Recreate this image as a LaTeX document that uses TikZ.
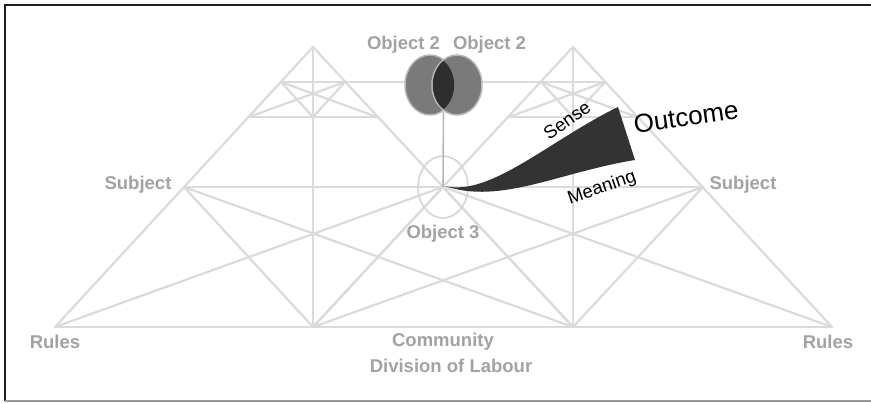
\documentclass[tikz,border=0pt]{standalone}
\usepackage{fontspec}
\setmainfont{Liberation Sans}
\usetikzlibrary{shapes.geometric}
\begin{document}
\begin{tikzpicture}[x=1pt,y=-1pt,
  grid/.style={draw=black!14, line width=2.2pt, line cap=round, line join=round},
  glabel/.style={font=\bfseries\fontsize{18.5}{20}\selectfont, text=black!36, inner sep=0pt, anchor=base},
  blabel/.style={font=\fontsize{18.5}{20}\selectfont, text=black, inner sep=0pt},
  venn/.style={ellipse, draw=black!28, fill=black!52, line width=1.5pt, minimum width=50pt, minimum height=60pt, inner sep=0pt}]
\useasboundingbox (0,0) rectangle (871,403);
\fill[white] (0,0) rectangle (871,403);
% frame
\draw[line width=2.6pt, black!88] (871,5) -- (5,5) -- (5,401);
\draw[line width=1.2pt, black!40] (5,401) -- (871,401);
% main points
\coordinate (RL) at (55,327);
\coordinate (AL) at (313,47);
\coordinate (CL) at (313,327);
\coordinate (SL) at (184,187);
\coordinate (OB) at (443,187);
\coordinate (CR) at (573,327);
\coordinate (AR) at (573,47);
\coordinate (SR) at (703,187);
\coordinate (RR) at (832,327);
% mini triangle points
\coordinate (lml) at (281,82);  \coordinate (lmr) at (345,82);
\coordinate (lbl) at (249,117); \coordinate (lbm) at (313,117); \coordinate (lbr) at (377,117);
\coordinate (rml) at (541,82);  \coordinate (rmr) at (605,82);
\coordinate (rbl) at (509,117); \coordinate (rbm) at (573,117); \coordinate (rbr) at (637,117);
% big structure
\draw[grid] (RL) -- (RR);
\draw[grid] (SL) -- (SR);
\draw[grid] (RL) -- (AL) -- (CR);
\draw[grid] (CL) -- (AR) -- (RR);
\draw[grid] (AL) -- (CL);
\draw[grid] (AR) -- (CR);
\draw[grid] (SL) -- (CL);
\draw[grid] (SL) -- (CR);
\draw[grid] (RL) -- (OB);
\draw[grid] (CL) -- (OB);
\draw[grid] (SR) -- (CR);
\draw[grid] (SR) -- (CL);
\draw[grid] (RR) -- (OB);
\draw[grid] (CR) -- (OB);
% mini triangles
\draw[grid] (lml) -- (rmr);
\draw[grid] (lbl) -- (lbr);
\draw[grid] (lml) -- (lbm);
\draw[grid] (lml) -- (lbr);
\draw[grid] (lmr) -- (lbm);
\draw[grid] (lmr) -- (lbl);
\draw[grid] (rbl) -- (rbr);
\draw[grid] (rml) -- (rbm);
\draw[grid] (rml) -- (rbr);
\draw[grid] (rmr) -- (rbm);
\draw[grid] (rmr) -- (rbl);
% object 3 circle
\node[ellipse, draw=black!16, line width=1.6pt, minimum width=50pt, minimum height=62pt, inner sep=0pt] (o3) at (OB) {};
% venn
\node[venn] (o2l) at (430,85) {};
\node[venn] (o2r) at (457,85) {};
\begin{scope}
  \clip (430,85) ellipse [x radius=24.2pt, y radius=29.2pt];
  \fill[black!82] (457,85) ellipse [x radius=24.2pt, y radius=29.2pt];
\end{scope}
\coordinate (lensb) at (443.5,112);
\draw[black!28, line width=1.6pt] (lensb) -- (OB);
% swoosh
\fill[black!80] (445,186) .. controls (490,197) and (550,140) .. (618,107)
  -- (635,160) .. controls (560,172) and (500,205) .. (445,186) -- cycle;
% labels
\node[glabel] (ob2l) at (403.5,50) {Object 2};
\node[glabel] (ob2r) at (489.5,50) {Object 2};
\node[glabel] (subl) at (138,190) {Subject};
\node[glabel] (subr) at (743,190) {Subject};
\node[glabel] (ob3) at (443,239) {Object 3};
\node[glabel] (rull) at (55,349) {Rules};
\node[glabel] (rulr) at (828,349) {Rules};
\node[glabel] (comm) at (443,347) {Community};
\node[glabel] (divl) at (451,373) {Division of Labour};
\node[blabel, rotate=35] (sense) at (567,120) {Sense};
\node[blabel, rotate=19] (mean) at (602,188) {Meaning};
\node[blabel, font=\fontsize{26}{28}\selectfont, rotate=8] (outc) at (686,117) {Outcome};
\end{tikzpicture}
\end{document}
